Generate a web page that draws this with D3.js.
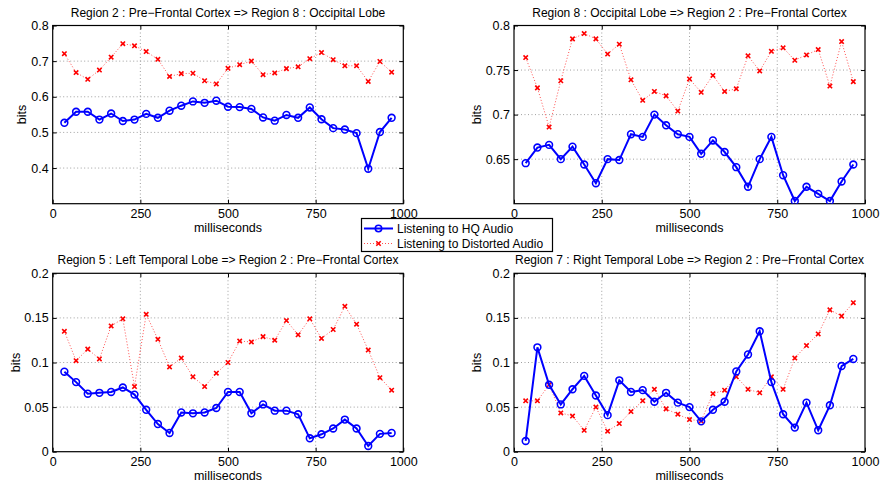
<!DOCTYPE html>
<html><head><meta charset="utf-8">
<script src="https://cdn.jsdelivr.net/npm/d3@7"></script>
<style>body{margin:0;background:#fff}svg{display:block}text{font-family:"Liberation Sans",Arial,sans-serif;fill:#000}</style>
</head><body><svg id="c" width="881" height="483"></svg>
<script>
const times = [33.3,66.7,100,133.3,166.7,200,233.3,266.7,300,333.3,366.7,400,433.3,466.7,500,533.3,566.7,600,633.3,666.7,700,733.3,766.7,800,833.3,866.7,900,933.3,966.7];
const titles = [
 "Region 2 : Pre\u2212Frontal Cortex => Region 8 : Occipital Lobe",
 "Region 8 : Occipital Lobe => Region 2 : Pre\u2212Frontal Cortex",
 "Region 5 : Left Temporal Lobe => Region 2 : Pre\u2212Frontal Cortex",
 "Region 7 : Right Temporal Lobe => Region 2 : Pre\u2212Frontal Cortex"];
const seriesNames = ["Listening to HQ Audio","Listening to Distorted Audio"];
const xTicks = [0,250,500,750,1000];
const yDomains = [[0.3,0.8],[0.6,0.8],[0,0.2],[0,0.2]];
const yTicks = [[0.4,0.5,0.6,0.7,0.8],[0.65,0.7,0.75,0.8],[0,0.05,0.1,0.15,0.2],[0,0.05,0.1,0.15,0.2]];
const hq1 = [0.527,0.558,0.558,0.536,0.553,0.532,0.536,0.552,0.541,0.561,0.575,0.587,0.583,0.589,0.572,0.571,0.566,0.542,0.533,0.549,0.541,0.570,0.537,0.512,0.508,0.498,0.398,0.501,0.541];
const dist1 = [0.721,0.668,0.649,0.675,0.711,0.749,0.743,0.727,0.705,0.657,0.665,0.666,0.645,0.636,0.680,0.690,0.700,0.662,0.667,0.679,0.684,0.707,0.724,0.704,0.687,0.687,0.643,0.699,0.669];
const hq2 = [0.6455,0.663,0.666,0.650,0.664,0.644,0.623,0.650,0.649,0.678,0.675,0.700,0.688,0.678,0.675,0.656,0.671,0.658,0.641,0.619,0.650,0.675,0.632,0.603,0.619,0.611,0.603,0.625,0.644];
const dist2 = [0.764,0.730,0.686,0.738,0.785,0.791,0.785,0.768,0.779,0.739,0.716,0.726,0.721,0.704,0.740,0.725,0.744,0.726,0.729,0.766,0.749,0.771,0.775,0.761,0.767,0.773,0.732,0.782,0.737];
const hq3 = [0.0897,0.078,0.065,0.066,0.067,0.072,0.064,0.047,0.031,0.021,0.044,0.043,0.044,0.049,0.067,0.067,0.043,0.053,0.046,0.046,0.042,0.015,0.0195,0.026,0.036,0.026,0.0064,0.020,0.021];
const dist3 = [0.135,0.102,0.115,0.104,0.141,0.149,0.073,0.154,0.126,0.095,0.105,0.084,0.073,0.088,0.100,0.124,0.123,0.129,0.125,0.147,0.131,0.149,0.127,0.137,0.163,0.143,0.114,0.083,0.069];
const hq4 = [0.012,0.117,0.075,0.053,0.070,0.085,0.063,0.041,0.080,0.067,0.069,0.056,0.066,0.055,0.050,0.034,0.047,0.056,0.090,0.109,0.135,0.078,0.042,0.027,0.055,0.024,0.052,0.096,0.104];
const dist4 = [0.057,0.057,0.075,0.0435,0.040,0.024,0.050,0.023,0.0315,0.045,0.057,0.070,0.048,0.042,0.036,0.0345,0.065,0.069,0.084,0.070,0.066,0.084,0.070,0.105,0.119,0.132,0.159,0.152,0.167];
const hqAll = [hq1,hq2,hq3,hq4];
const distAll = [dist1,dist2,dist3,dist4];

const svg = d3.select("#c");
const boxes = [
 {l:52.7,r:403.3,t:25.5,b:203.7,by:31},
 {l:514,r:865,t:25.5,b:203.7,by:37},
 {l:52.7,r:403.3,t:273.3,b:451.7,by:37.5},
 {l:514,r:865,t:273.3,b:451.7,by:37}];
const blue="#0000ff", red="#ff0000";

function xMark(g, cx, cy){
  const s=2.2;
  g.append("path").attr("d",`M${cx-s},${cy-s}L${cx+s},${cy+s}M${cx-s},${cy+s}L${cx+s},${cy-s}`)
   .attr("stroke",red).attr("stroke-width",1.6).attr("fill","none");
}

boxes.forEach((bx,i)=>{
  const g = svg.append("g");
  const x = d3.scaleLinear().domain([0,1000]).range([bx.l,bx.r]);
  const y = d3.scaleLinear().domain(yDomains[i]).range([bx.b,bx.t]);
  xTicks.forEach(t=>{ if(t>0&&t<1000) g.append("line").attr("x1",x(t)).attr("x2",x(t)).attr("y1",bx.t).attr("y2",bx.b)
     .attr("stroke","#888").attr("stroke-width",0.8).attr("stroke-dasharray","1,2.5");});
  yTicks[i].forEach(t=>{ const yy=y(t); if(yy>bx.t+1&&yy<bx.b-1) g.append("line").attr("x1",bx.l).attr("x2",bx.r).attr("y1",yy).attr("y2",yy)
     .attr("stroke","#888").attr("stroke-width",0.8).attr("stroke-dasharray","1,2.5");});
  const ax = g.append("g").attr("transform",`translate(0,${bx.b})`).call(d3.axisBottom(x).tickValues(xTicks).tickSize(-4).tickPadding(5).tickFormat(d3.format("d")));
  const axT = g.append("g").attr("transform",`translate(0,${bx.t})`).call(d3.axisTop(x).tickValues(xTicks).tickSize(-4).tickFormat(""));
  const ay = g.append("g").attr("transform",`translate(${bx.l},0)`).call(d3.axisLeft(y).tickValues(yTicks[i]).tickSize(-4).tickPadding(4).tickFormat(d=>String(+d.toFixed(2))));
  const ayR = g.append("g").attr("transform",`translate(${bx.r},0)`).call(d3.axisRight(y).tickValues(yTicks[i]).tickSize(-4).tickFormat(""));
  [ax,axT,ay,ayR].forEach(a=>{a.select(".domain").remove(); a.selectAll("line").attr("stroke","#000"); a.selectAll("text").attr("font-size",12.5).attr("fill","#000").style("font-family","Liberation Sans, Arial, sans-serif");});
  g.append("rect").attr("x",bx.l).attr("y",bx.t).attr("width",bx.r-bx.l).attr("height",bx.b-bx.t).attr("fill","none").attr("stroke","#000").attr("stroke-width",1.2);
  g.append("text").attr("x",(bx.l+bx.r)/2).attr("y",bx.t-9).attr("text-anchor","middle").attr("font-size",12).text(titles[i]);
  g.append("text").attr("x",(bx.l+bx.r)/2).attr("y",bx.b+28).attr("text-anchor","middle").attr("font-size",12.5).text("milliseconds");
  g.append("text").attr("transform",`translate(${bx.l-bx.by},${(bx.t+bx.b)/2}) rotate(-90)`).attr("text-anchor","middle").attr("dy","0.35em").attr("font-size",12.5).text("bits");
  const cid="clip"+i;
  svg.append("clipPath").attr("id",cid).append("rect").attr("x",bx.l-5).attr("y",bx.t-5).attr("width",bx.r-bx.l+10).attr("height",bx.b-bx.t+5);
  const pg = g.append("g").attr("clip-path",`url(#${cid})`);
  const line = d3.line().x((d,k)=>x(times[k])).y(d=>y(d));
  pg.append("path").datum(distAll[i]).attr("d",line).attr("fill","none").attr("stroke","#ff5050").attr("stroke-width",1).attr("stroke-dasharray","1,2");
  distAll[i].forEach((v,k)=>xMark(pg,x(times[k]),y(v)));
  pg.append("path").datum(hqAll[i]).attr("d",line).attr("fill","none").attr("stroke",blue).attr("stroke-width",2);
  pg.selectAll("circle").data(hqAll[i]).join("circle").attr("cx",(d,k)=>x(times[k])).attr("cy",d=>y(d)).attr("r",3.4)
    .attr("fill","none").attr("stroke",blue).attr("stroke-width",1.6);
});

const lg = svg.append("g");
lg.append("rect").attr("x",361.5).attr("y",218.5).attr("width",191).attr("height",33).attr("fill","#fff").attr("stroke","#000").attr("stroke-width",1.2);
lg.append("line").attr("x1",364).attr("x2",393).attr("y1",228.5).attr("y2",228.5).attr("stroke",blue).attr("stroke-width",2);
lg.append("circle").attr("cx",378.5).attr("cy",228.5).attr("r",3.2).attr("fill","none").attr("stroke",blue).attr("stroke-width",1.6);
lg.append("line").attr("x1",364).attr("x2",393).attr("y1",243.5).attr("y2",243.5).attr("stroke","#ff5050").attr("stroke-width",1).attr("stroke-dasharray","1,2");
xMark(lg,378.5,243.5);
lg.append("text").attr("x",397).attr("y",228.5).attr("dy","0.35em").attr("font-size",12).text(seriesNames[0]);
lg.append("text").attr("x",397).attr("y",243.5).attr("dy","0.35em").attr("font-size",12).text(seriesNames[1]);
</script></body></html>
